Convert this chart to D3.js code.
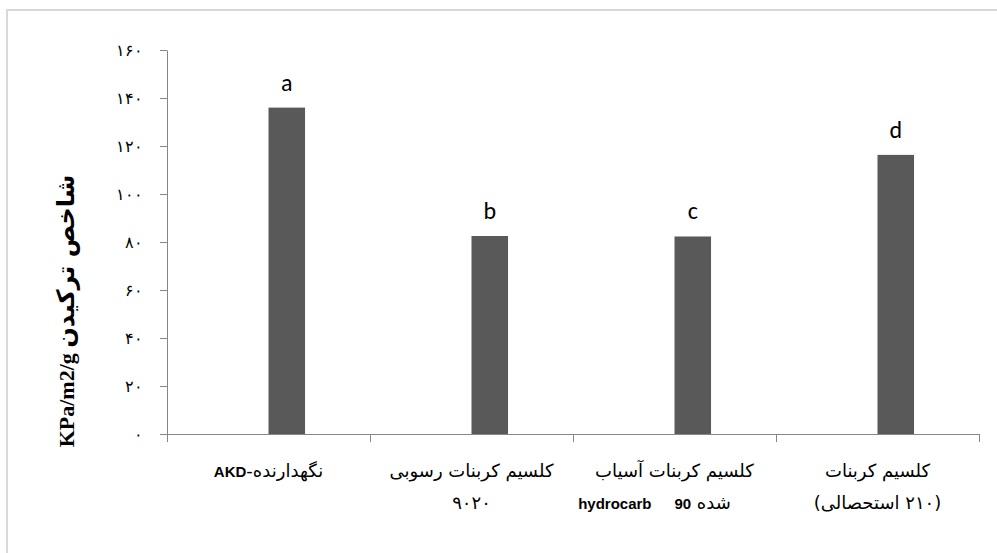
<!DOCTYPE html>
<html>
<head>
<meta charset="utf-8">
<script src="https://cdn.jsdelivr.net/npm/d3@7"></script>
<style>
  body { margin: 0; background: #fff; }
  svg { display: block; }
  .persian { font-family: "DejaVu Sans", "Noto Sans", sans-serif; }
  text { white-space: pre; }
</style>
</head>
<body>
<div id="chart"></div>
<script>

///////////////////////////////////////////////////////////////////////////
///////////////////////////////// Data ////////////////////////////////////
///////////////////////////////////////////////////////////////////////////

var categories = ["cat1", "cat2", "cat3", "cat4"]
var values = [136, 82.5, 82.3, 116.3]
var letters = ["a", "b", "c", "d"]
var yTicks = [0, 20, 40, 60, 80, 100, 120, 140, 160]
var yTitle = "KPa/m2/g"
var yTitlePersian = "شاخص ترکیدن"

// each label: lines, each line a list of [text, bold] pieces in left-to-right visual order
var xLabels = [
  [[["AKD", true], ["-", false], ["نگهدارنده", false]]],
  [[["کلسیم کربنات رسوبی", false]], [["۹۰۲۰", false]]],
  [[["کلسیم کربنات آسیاب", false]], [["hydrocarb", true], ["    ", false], ["90", true], [" ", false], ["شده", false], ["       ", false]]],
  [[["کلسیم کربنات", false]], [["(", false], ["استحصالی", false], [" ", false], ["۲۱۰", false], [")", false]]]
]

///////////////////////////////////////////////////////////////////////////
//////////////////////////////// Globals //////////////////////////////////
///////////////////////////////////////////////////////////////////////////

var W = 997, H = 553
var margin = {top: 50, right: 18, bottom: 119, left: 167}
var width = W - margin.left - margin.right
var height = H - margin.top - margin.bottom
var axisColor = "#868686"
var barColor = "#595959"

function toPersian(n) {
  return String(n).replace(/[0-9]/g, function (d) { return "۰۱۲۳۴۵۶۷۸۹"[+d] })
}

var svg = d3.select("#chart").append("svg")
  .attr("width", W)
  .attr("height", H)

// outer frame
svg.append("rect")
  .attr("x", 7).attr("y", 10)
  .attr("width", W + 10).attr("height", H + 10)
  .attr("fill", "#fff")
  .attr("stroke", "#d9d9d9")
  .attr("stroke-width", 2)

var g = svg.append("g")
  .attr("transform", "translate(" + margin.left + "," + margin.top + ")")

///////////////////////////////////////////////////////////////////////////
///////////////////////////// Create scales ///////////////////////////////
///////////////////////////////////////////////////////////////////////////

var x = d3.scaleBand().domain(categories).range([0, width])
var xEdge = d3.scaleLinear().domain([0, categories.length]).range([0, width])
var y = d3.scaleLinear().domain([0, 160]).range([height, 0])

///////////////////////////////////////////////////////////////////////////
///////////////////////////////// Axes ////////////////////////////////////
///////////////////////////////////////////////////////////////////////////

var yAxis = g.append("g")
  .call(d3.axisLeft(y).tickValues(yTicks).tickSize(7).tickSizeOuter(0).tickPadding(17)
    .tickFormat(toPersian))
yAxis.selectAll("text")
  .attr("font-family", "DejaVu Serif, Liberation Serif, serif")
  .attr("font-size", 16)
  .attr("fill", "#000")

var xAxis = g.append("g")
  .attr("transform", "translate(0," + height + ")")
  .call(d3.axisBottom(xEdge).tickValues(d3.range(0, categories.length + 1))
    .tickSize(8).tickSizeOuter(0).tickFormat(""))

g.selectAll(".domain, .tick line").attr("stroke", axisColor)

///////////////////////////////////////////////////////////////////////////
///////////////////////////////// Bars ////////////////////////////////////
///////////////////////////////////////////////////////////////////////////

var barW = x.bandwidth() * 0.18

g.selectAll(".bar")
  .data(categories)
  .enter().append("rect")
  .attr("class", "bar")
  .attr("x", function (d) { return x(d) + x.bandwidth() / 2 })
  .attr("y", function (d, i) { return y(values[i]) })
  .attr("width", barW)
  .attr("height", function (d, i) { return height - y(values[i]) })
  .attr("fill", barColor)

g.selectAll(".letter")
  .data(categories)
  .enter().append("text")
  .attr("class", "letter")
  .attr("x", function (d) { return x(d) + x.bandwidth() / 2 + barW / 2 })
  .attr("y", function (d, i) { return y(values[i]) - 17 })
  .attr("text-anchor", "middle")
  .attr("font-family", "Carlito, 'Open Sans', sans-serif")
  .attr("font-size", 24)
  .attr("fill", "#000")
  .text(function (d, i) { return letters[i] })

///////////////////////////////////////////////////////////////////////////
/////////////////////////// Category labels ///////////////////////////////
///////////////////////////////////////////////////////////////////////////

// each piece is its own text so mixed-direction pieces keep their order
categories.forEach(function (c, i) {
  var cx = x(c) + x.bandwidth() / 2
  xLabels[i].forEach(function (line, j) {
    var row = g.append("g")
    var pieces = line.map(function (part) {
      return row.append("text")
        .attr("y", height + 43 + j * 32)
        .attr("class", part[1] ? null : "persian")
        .attr("font-family", part[1] ? "'Liberation Sans', sans-serif" : null)
        .attr("font-size", part[1] ? 15 : 18)
        .attr("font-weight", part[1] ? "bold" : "normal")
        .attr("fill", "#000")
        .text(part[0])
    })
    var widths = pieces.map(function (p) { return p.node().getComputedTextLength() })
    var pos = cx - d3.sum(widths) / 2
    pieces.forEach(function (p, k) {
      p.attr("x", pos)
      pos += widths[k]
    })
  })
})

///////////////////////////////////////////////////////////////////////////
//////////////////////////////// Y title //////////////////////////////////
///////////////////////////////////////////////////////////////////////////

var title = svg.append("g")
  .attr("transform", "translate(74,311) rotate(-90)")
var tLatin = title.append("text")
  .attr("font-family", "'Liberation Serif', serif")
  .attr("font-size", 22)
  .attr("font-weight", "bold")
  .text(yTitle + " ")
var tPersian = title.append("text")
  .attr("class", "persian")
  .attr("font-size", 24)
  .attr("font-weight", "bold")
  .text(yTitlePersian)
var wL = tLatin.node().getComputedTextLength()
var wP = tPersian.node().getComputedTextLength()
tLatin.attr("x", -(wL + wP) / 2)
tPersian.attr("x", -(wL + wP) / 2 + wL)

</script>
</body>
</html>
